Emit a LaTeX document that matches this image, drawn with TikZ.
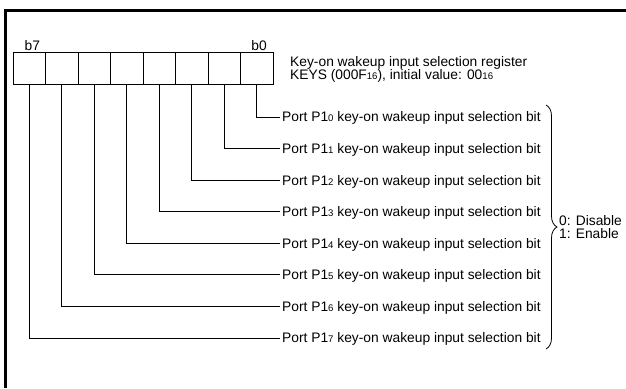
\documentclass[tikz,border=0pt]{standalone}
\usepackage{fontspec}
\setmainfont{Liberation Sans}
\usetikzlibrary{decorations.pathreplacing}
\newcommand\sbs[1]{{\fontsize{9.6}{9.6}\selectfont #1}}
\begin{document}
\begin{tikzpicture}[x=1pt,y=-1pt,
  every node/.style={font=\fontsize{13.8}{13}\selectfont},
  cell/.style={draw, line width=0.8pt, minimum width=32.5pt, minimum height=32pt, inner sep=0pt},
  rowtext/.style={anchor=west, inner xsep=2pt, inner ysep=0pt, text height=9.8pt, text depth=0pt},
  conn/.style={line width=0.8pt},
  frameline/.style={line width=3pt}
]
\useasboundingbox (0,0) rectangle (626,388);
\draw[frameline] (5.5,388) -- (5.5,10.5) -- (626,10.5);
% register cells
\foreach \i in {0,...,7} {
  \node[cell] (c\i) at ({256.75-32.5*\i},68) {};
}
\node[anchor=base west, inner sep=0pt] (lb7) at (24.5,50) {b7};
\node[anchor=base east, inner sep=0pt] (lb0) at (267,50) {b0};
\node[anchor=west, align=left, inner sep=0pt] (title) at (290,69.5)
  {Key-on wakeup input selection register\\KEYS (000F\sbs{16}), initial value: 00\sbs{16}};
% rows
\foreach \i in {0,...,7} {
  \node[rowtext] (r\i) at (280,{117+31.57*\i}) {Port P1\sbs{\i} key-on wakeup input selection bit};
  \draw[conn] (c\i.south) |- (r\i.west);
}
% brace
\coordinate (bt) at (546,105);
\coordinate (bb) at (546,349);
\draw[line width=0.8pt, decorate, decoration={brace, amplitude=11pt}] (bt) -- (bb);
\node[anchor=west, align=left, inner sep=0pt] (vals) at (559,227.5) {0: Disable\\1: Enable};
\end{tikzpicture}
\end{document}
